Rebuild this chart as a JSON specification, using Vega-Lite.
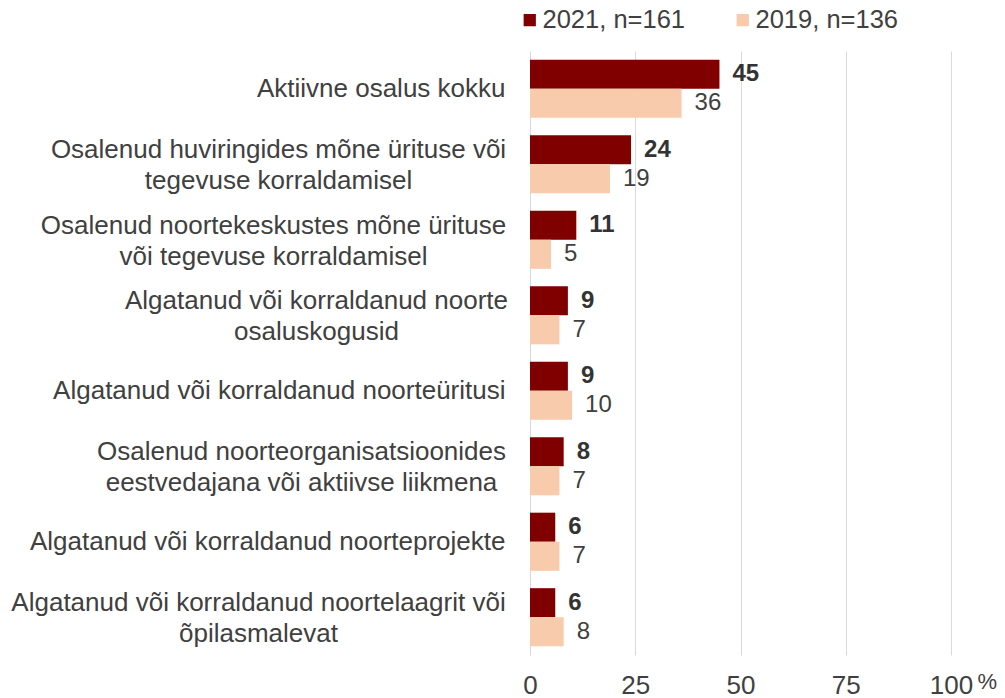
{
  "$schema": "https://vega.github.io/schema/vega-lite/v6.json",
  "width": 421,
  "height": 604,
  "autosize": {"type": "none"},
  "padding": {"left": 530, "top": 51, "right": 54, "bottom": 43},
  "background": "white",
  "config": {
    "font": "Liberation Sans",
    "view": {"stroke": null}
  },
  "data": {
    "values": [
      {"cat": "Aktiivne osalus kokku", "order": 1, "series": "2021, n=161", "value": 45},
      {"cat": "Aktiivne osalus kokku", "order": 1, "series": "2019, n=136", "value": 36},
      {"cat": "Osalenud huviringides mõne ürituse või|tegevuse korraldamisel", "order": 2, "series": "2021, n=161", "value": 24},
      {"cat": "Osalenud huviringides mõne ürituse või|tegevuse korraldamisel", "order": 2, "series": "2019, n=136", "value": 19},
      {"cat": "Osalenud noortekeskustes mõne ürituse|või tegevuse korraldamisel", "order": 3, "series": "2021, n=161", "value": 11},
      {"cat": "Osalenud noortekeskustes mõne ürituse|või tegevuse korraldamisel", "order": 3, "series": "2019, n=136", "value": 5},
      {"cat": "Algatanud või korraldanud noorte|osaluskogusid", "order": 4, "series": "2021, n=161", "value": 9},
      {"cat": "Algatanud või korraldanud noorte|osaluskogusid", "order": 4, "series": "2019, n=136", "value": 7},
      {"cat": "Algatanud või korraldanud noorteüritusi", "order": 5, "series": "2021, n=161", "value": 9},
      {"cat": "Algatanud või korraldanud noorteüritusi", "order": 5, "series": "2019, n=136", "value": 10},
      {"cat": "Osalenud noorteorganisatsioonides|eestvedajana või aktiivse liikmena", "order": 6, "series": "2021, n=161", "value": 8},
      {"cat": "Osalenud noorteorganisatsioonides|eestvedajana või aktiivse liikmena", "order": 6, "series": "2019, n=136", "value": 7},
      {"cat": "Algatanud või korraldanud noorteprojekte", "order": 7, "series": "2021, n=161", "value": 6},
      {"cat": "Algatanud või korraldanud noorteprojekte", "order": 7, "series": "2019, n=136", "value": 7},
      {"cat": "Algatanud või korraldanud noortelaagrit või|õpilasmalevat", "order": 8, "series": "2021, n=161", "value": 6},
      {"cat": "Algatanud või korraldanud noortelaagrit või|õpilasmalevat", "order": 8, "series": "2019, n=136", "value": 8}
    ]
  },
  "encoding": {
    "y": {
      "field": "cat",
      "type": "nominal",
      "sort": {"field": "order", "op": "min"},
      "scale": {"paddingInner": 0.23, "paddingOuter": 0.115},
      "axis": {
        "title": null,
        "domain": false,
        "ticks": false,
        "labelExpr": "split(datum.label, '|')",
        "labelFontSize": 26,
        "labelColor": "#404040",
        "labelAlign": {"condition": {"test": "indexof(datum.value, '|') >= 0", "value": "center"}, "value": "right"},
        "labelPadding": {
          "condition": [
            {"test": "indexof(datum.value, 'huviringides') >= 0", "value": 252},
            {"test": "indexof(datum.value, 'noortekeskustes') >= 0", "value": 257},
            {"test": "indexof(datum.value, 'osaluskogusid') >= 0", "value": 214},
            {"test": "indexof(datum.value, 'noorteorganisatsioonides') >= 0", "value": 229},
            {"test": "indexof(datum.value, 'noortelaagrit') >= 0", "value": 272}
          ],
          "value": 25
        },
        "labelOffset": {"condition": {"test": "indexof(datum.value, '|') >= 0", "value": -14}, "value": 0},
        "labelLineHeight": 31,
        "labelLimit": 700
      }
    },
    "yOffset": {
      "field": "series",
      "type": "nominal",
      "sort": ["2021, n=161", "2019, n=136"],
      "scale": {"paddingInner": 0, "paddingOuter": 0}
    },
    "x": {
      "field": "value",
      "type": "quantitative",
      "scale": {"domain": [0, 100]},
      "axis": {
        "values": [0, 25, 50, 75, 100],
        "domain": false,
        "ticks": false,
        "grid": true,
        "gridColor": "#d9d9d9",
        "gridWidth": 1,
        "labelFontSize": 26,
        "labelColor": "#404040",
        "labelPadding": 17,
        "labelFlush": false,
        "title": "%",
        "titleFontSize": 22,
        "titleFontWeight": "normal",
        "titleColor": "#404040",
        "titleX": 447,
        "titleY": 26,
        "titleAlign": "left",
        "titleBaseline": "middle"
      }
    }
  },
  "layer": [
    {
      "mark": {"type": "bar"},
      "encoding": {
        "color": {
          "field": "series",
          "type": "nominal",
          "sort": ["2021, n=161", "2019, n=136"],
          "scale": {"domain": ["2021, n=161", "2019, n=136"], "range": ["#800000", "#F8CBAD"]},
          "legend": {
            "title": null,
            "orient": "none",
            "direction": "horizontal",
            "legendX": -13,
            "legendY": -44,
            "symbolType": "square",
            "symbolSize": 150,
            "symbolStrokeWidth": 0,
            "labelFontSize": 25.5,
            "labelColor": "#404040",
            "labelOffset": 0,
            "columnPadding": 44
          }
        }
      }
    },
    {
      "transform": [{"filter": "datum.series === '2021, n=161'"}],
      "mark": {"type": "text", "align": "left", "baseline": "middle", "dx": 13, "fontSize": 24, "fontWeight": "bold", "color": "#333333"},
      "encoding": {
        "text": {"field": "value", "type": "quantitative"}
      }
    },
    {
      "transform": [{"filter": "datum.series === '2019, n=136'"}],
      "mark": {"type": "text", "align": "left", "baseline": "middle", "dx": 13, "fontSize": 24, "fontWeight": "normal", "color": "#404040"},
      "encoding": {
        "text": {"field": "value", "type": "quantitative"}
      }
    }
  ]
}
